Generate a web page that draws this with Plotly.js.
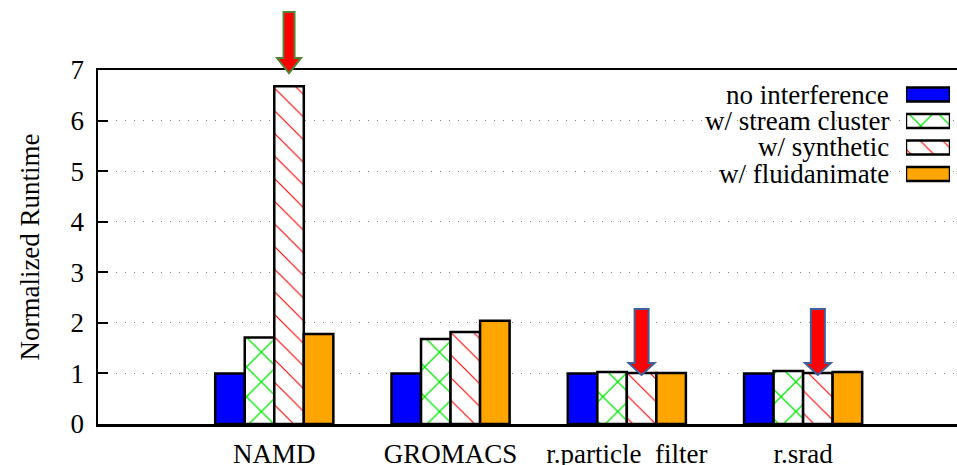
<!DOCTYPE html>
<html>
<head>
<meta charset="utf-8">
<script src="https://cdn.plot.ly/plotly-3.0.1.min.js"></script>
<style>html,body{margin:0;padding:0;background:#fff;}#chart{width:957px;height:465px;}</style>
</head>
<body>
<div id="chart"></div>
<script>
// ---- data ----
var categories = ['NAMD', 'GROMACS', 'r.particle\u00a0 filter', 'r.srad'];
var seriesNames = ['no interference', 'w/ stream cluster', 'w/ synthetic', 'w/ fluidanimate'];
var noInterference = [1.00, 1.00, 1.00, 1.00];
var streamCluster  = [1.71, 1.68, 1.03, 1.05];
var synthetic      = [6.68, 1.82, 1.01, 1.01];
var fluidanimate   = [1.78, 2.04, 1.01, 1.03];
var yTicks = [0, 1, 2, 3, 4, 5, 6, 7];
var arrowGroups = [0, 2, 3];

// ---- styles ----
var FONT = 'Liberation Serif, Times New Roman, serif';
var idx = categories.map(function (_, i) { return i; });
var bargap = 0.33;
var nSeries = 4;
var xRange = [-1, 3.873];
var styles = [
  {color: '#0000ff'},
  {color: '#ffffff', pattern: {shape: 'x', fgcolor: '#00e600', bgcolor: '#ffffff', size: 21, solidity: 0.12, fillmode: 'replace'}},
  {color: '#ffffff', pattern: {shape: '\\', fgcolor: '#ff0000', bgcolor: '#ffffff', size: 16, solidity: 0.07, fillmode: 'replace'}},
  {color: '#ffa500'}
];
var allSeries = [noInterference, streamCluster, synthetic, fluidanimate];

function markerFor(k) {
  var m = {color: styles[k].color, line: {color: '#000', width: 2.5}};
  if (styles[k].pattern) m.pattern = styles[k].pattern;
  return m;
}

var traces = allSeries.map(function (vals, k) {
  return {type: 'bar', x: idx, y: vals, name: seriesNames[k], marker: markerFor(k), showlegend: false, hoverinfo: 'skip'};
});

// legend swatches: bars on a small hidden axis pair
var legRows = seriesNames.map(function (_, k) { return nSeries - 1 - k; });
seriesNames.forEach(function (name, k) {
  traces.push({
    type: 'bar', orientation: 'h', xaxis: 'x2', yaxis: 'y2', offsetgroup: 'leg',
    y: [legRows[k]], x: [1], base: 0, width: 0.53,
    showlegend: false, hoverinfo: 'skip', marker: markerFor(k)
  });
});

var annotations = seriesNames.map(function (name, k) {
  return {text: name, xref: 'paper', yref: 'y2', x: 0.9232, y: legRows[k],
          xanchor: 'right', yanchor: 'middle', showarrow: false,
          font: {family: FONT, size: 27, color: '#000'}};
});

// arrows over the synthetic bars
var yMax = yTicks[yTicks.length - 1];
var groupW = 1 - bargap, barW = groupW / nSeries;
var redOffset = -groupW / 2 + barW * 2.5;
function xPaper(v) { return (v - xRange[0]) / (xRange[1] - xRange[0]); }
function yPaper(v) { return v / yMax; }
var shapes = [{
  type: 'rect', xref: 'paper', yref: 'paper', x0: 0.648, x1: 1, y0: 0.647, y1: 0.975,
  fillcolor: '#ffffff', line: {width: 0}, layer: 'between'
}];
arrowGroups.forEach(function (g) {
  var first = g === 0;
  var tip = first ? yMax - 0.06 : synthetic[g] - 0.04;
  var hw = first ? 5.5 : 7, hh = first ? 12 : 13, headL = first ? 15 : 12, len = first ? 61 : 66;
  shapes.push({
    type: 'path', xref: 'paper', yref: 'paper', xsizemode: 'pixel', ysizemode: 'pixel',
    xanchor: xPaper(g + redOffset), yanchor: yPaper(tip),
    path: 'M0,0 L' + (-hh) + ',' + headL + ' L' + (-hw) + ',' + headL + ' L' + (-hw) + ',' + len +
          ' L' + hw + ',' + len + ' L' + hw + ',' + headL + ' L' + hh + ',' + headL + ' Z',
    fillcolor: '#ff0000', line: {color: first ? '#548235' : '#41609a', width: 2}, layer: 'above'
  });
});

var layout = {
  width: 957, height: 465, autosize: false,
  margin: {l: 98, r: 0, t: 70, b: 41, pad: 0},
  paper_bgcolor: '#fff', plot_bgcolor: '#fff',
  barmode: 'group', bargap: bargap, bargroupgap: 0,
  font: {family: FONT, size: 27, color: '#000'},
  showlegend: false,
  xaxis: {
    range: xRange, tickmode: 'array', tickvals: idx, ticktext: categories,
    showline: true, linecolor: '#000', linewidth: 2.5, mirror: true,
    ticks: '', showgrid: false, zeroline: false, fixedrange: true,
    tickfont: {family: FONT, size: 27, color: '#000'}, ticklabelstandoff: 4
  },
  yaxis: {
    range: [0, yMax], tickmode: 'array', tickvals: yTicks, ticktext: yTicks.map(String),
    showline: true, linecolor: '#000', linewidth: 2.5, mirror: false,
    ticks: 'inside', ticklen: 10, tickwidth: 2, tickcolor: '#000',
    showgrid: true, gridcolor: '#888', gridwidth: 1, griddash: '1px,8px',
    zeroline: false, fixedrange: true,
    tickfont: {family: FONT, size: 27, color: '#000'}, ticklabelstandoff: 6,
    title: {text: 'Normalized Runtime', font: {family: FONT, size: 27, color: '#000'}, standoff: 23}
  },
  xaxis2: {domain: [0.9406, 0.9919], anchor: 'y2', range: [0, 1], visible: false, fixedrange: true},
  yaxis2: {domain: [0.6688, 0.9682], anchor: 'x2', range: [-0.5, 3.5], visible: false, fixedrange: true},
  annotations: annotations,
  shapes: shapes
};

Plotly.newPlot('chart', traces, layout, {displayModeBar: false, staticPlot: true});
</script>
</body>
</html>
